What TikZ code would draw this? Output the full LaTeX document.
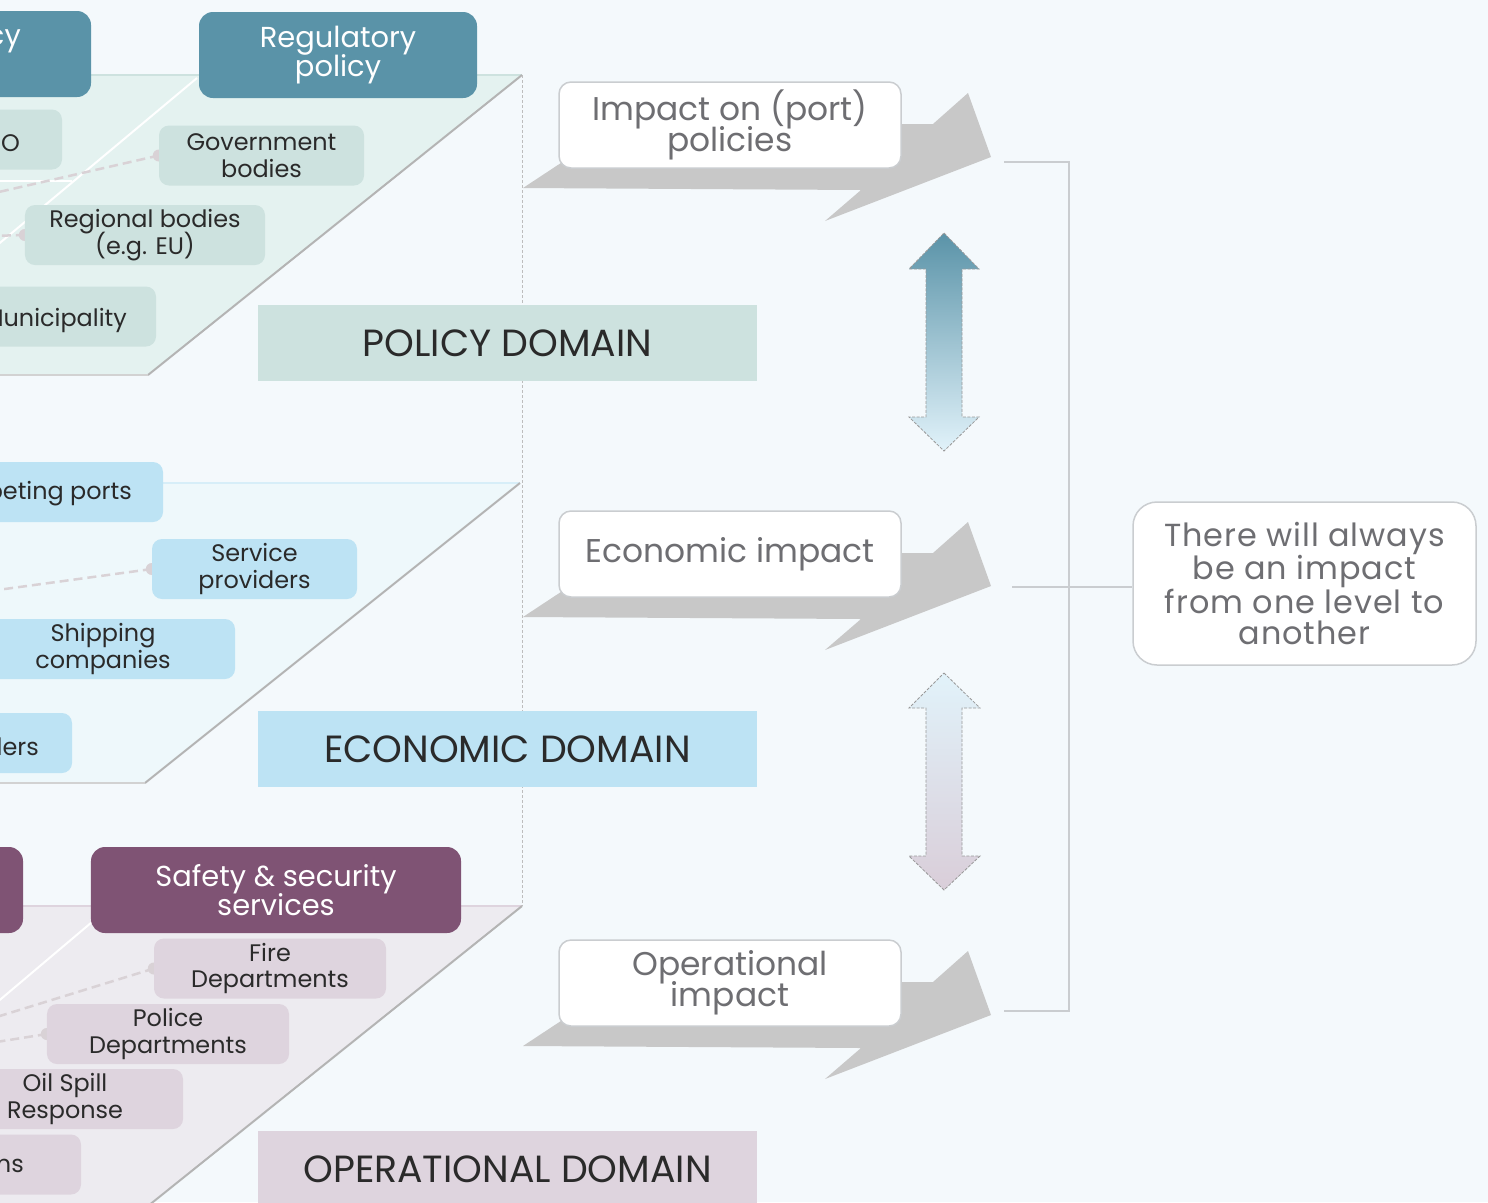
\documentclass[tikz,border=0pt]{standalone}
\usepackage{fontspec}
\setmainfont{Poppins}
\usetikzlibrary{shapes.misc}
\newcommand\mytightls{\lineskiplimit -60pt\relax}
\definecolor{bgc}{HTML}{F4F9FC}
\definecolor{polplane}{HTML}{E4F2F0}
\definecolor{ecoplane}{HTML}{EEF8FB}
\definecolor{opplane}{HTML}{EDEBF0}
\definecolor{polhdr}{HTML}{5A93A8}
\definecolor{polsub}{HTML}{CDE2DF}
\definecolor{ecosub}{HTML}{BDE3F4}
\definecolor{ophdr}{HTML}{7F5374}
\definecolor{opsub}{HTML}{DED4DE}
\definecolor{arrgray}{HTML}{C8C8C8}
\definecolor{conncol}{HTML}{D9D2D6}
\definecolor{txtdark}{HTML}{2A2A2A}
\definecolor{txtgray}{HTML}{6E6E72}
\definecolor{brk}{HTML}{CACDD0}
\definecolor{edgeg}{HTML}{B4B4B4}
\definecolor{vdash}{HTML}{BDBDBD}
\pgfdeclarelayer{back}
\pgfdeclarelayer{conn}
\pgfsetlayers{back,conn,main}
\begin{document}
\begin{tikzpicture}[x=1bp,y=-1bp,
  hdrbox/.style={rounded corners=14bp, text=white, font=\fontsize{29}{29.5}\selectfont\mytightls,
    align=center, minimum width=278bp, minimum height=86bp, inner sep=0pt},
  subbox/.style={rounded corners=10bp, text=txtdark, font=\fontsize{24}{26.5}\selectfont\mytightls,
    align=center, minimum height=60bp, inner sep=0pt},
  frag/.style={inner sep=0pt, text=txtdark, font=\fontsize{24}{26.5}\selectfont},
  hfrag/.style={inner sep=0pt, text=white, font=\fontsize{29}{29.5}\selectfont},
  dombox/.style={minimum width=499bp, minimum height=76bp, inner sep=0pt, text=txtdark,
    font=\fontsize{38}{38}\selectfont},
  impbox/.style={rounded corners=12bp, fill=white, draw=brk, line width=1.5bp,
    minimum width=342bp, minimum height=86bp, inner sep=0pt, align=center,
    text=txtgray, font=\fontsize{33}{31}\selectfont\mytightls},
  grayarrow/.style={fill=arrgray},
  conline/.style={draw=conncol, line width=2.5bp, dash pattern=on 9bp off 5bp},
  condot/.style={fill=conncol},
  planeedge/.style={draw=edgeg, line width=2bp},
  whiteline/.style={draw=white, line width=2bp},
  dbl/.style={draw=gray!80, line width=0.8bp, dash pattern=on 3bp off 1.5bp},
  brkline/.style={draw=brk, line width=2.2bp}
]
\useasboundingbox (0,0) rectangle (1488,1202);

\begin{pgfonlayer}{back}
  \fill[bgc] (0,0) rectangle (1488,1202);
  % policy plane
  \fill[polplane] (-300,75) -- (522,75) -- (148,375) -- (-300,375) -- cycle;
  \draw[draw=polsub, line width=2bp] (-300,75) -- (522,75);
  \draw[planeedge] (522,75) -- (148,375);
  \draw[draw=edgeg!60, line width=1.5bp] (148,375) -- (-300,375);
  \draw[whiteline] (197,78) -- (-5,247);
  \draw[whiteline] (-5,181) -- (72,181);
  % economic plane
  \fill[ecoplane] (-300,483) -- (520,483) -- (145,783) -- (-300,783) -- cycle;
  \draw[draw=ecosub!60, line width=2bp] (-300,483) -- (520,483);
  \draw[planeedge] (520,483) -- (145,783);
  \draw[draw=edgeg!60, line width=1.5bp] (145,783) -- (-300,783);
  % operational plane
  \fill[opplane] (-300,906) -- (522,906) -- (148,1206) -- (-300,1206) -- cycle;
  \draw[draw=opsub, line width=2bp] (-300,906) -- (522,906);
  \draw[planeedge] (522,906) -- (148,1206);
  \draw[whiteline] (92,922) -- (-5,1004);
  % vertical dashed guide
  \draw[draw=vdash, line width=0.8bp, dash pattern=on 3bp off 2bp] (522,75) -- (522,906);
\end{pgfonlayer}

% ---------- policy domain ----------
\node[hdrbox, fill=polhdr] (regpol) at (338,55) {Regulatory\\policy};
\node[hdrbox, fill=polhdr] (lefthdr) at (-48,54) {};
\node[hfrag, anchor=east] (lefthdrtxt) at (21,41) {cy};
\node[subbox, fill=polsub, minimum width=205bp] (gov) at (261.5,155.5) {Government\\bodies};
\node[subbox, fill=polsub, minimum width=205bp] (imo) at (-40.5,139.5) {};
\node[frag, anchor=east] (imotxt) at (20,143) {IMO};
\node[subbox, fill=polsub, minimum width=240bp] (reg) at (145,235) {Regional bodies\\(e.g. EU)};
\node[subbox, fill=polsub, minimum width=240bp] (mun) at (36,316.5) {};
\node[frag, anchor=east] (muntxt) at (127,321) {Municipality};
\node[dombox, fill=polsub] (poldom) at (507.5,343) {POLICY DOMAIN};

% ---------- economic domain ----------
\node[subbox, fill=ecosub, minimum width=260bp] (comp) at (33,492) {};
\node[frag, anchor=east] (comptxt) at (132,494) {Competing ports};
\node[subbox, fill=ecosub, minimum width=205bp] (serv) at (254.5,569) {Service\\providers};
\node[subbox, fill=ecosub, minimum width=264bp] (ship) at (103,649) {Shipping\\companies};
\node[subbox, fill=ecosub, minimum width=204bp] (ders) at (-30,743) {};
\node[frag, anchor=east] (derstxt) at (39,747) {ders};
\node[dombox, fill=ecosub] (ecodom) at (507.5,749) {ECONOMIC DOMAIN};

% ---------- operational domain ----------
\node[hdrbox, fill=ophdr, minimum width=370bp] (safety) at (276,890) {Safety \& security\\services};
\node[hdrbox, fill=ophdr, minimum width=370bp] (lefthdr2) at (-162,890) {};
\node[subbox, fill=opsub, minimum width=232bp] (fire) at (270,968.5) {Fire\\Departments};
\node[subbox, fill=opsub, minimum width=242bp] (police) at (168,1034) {Police\\Departments};
\node[subbox, fill=opsub, minimum width=236bp] (oil) at (65,1099) {Oil Spill\\Response};
\node[subbox, fill=opsub, minimum width=242bp] (ms) at (-40,1164.5) {};
\node[frag, anchor=east] (mstxt) at (24,1166) {ms};
\node[dombox, fill=opsub] (opdom) at (507.5,1169) {OPERATIONAL DOMAIN};

% ---------- dashed connectors ----------
\coordinate (gvend) at (-10,194);
\coordinate (rgend) at (-10,236);
\coordinate (svend) at (-10,591);
\coordinate (frend) at (-10,1019);
\coordinate (plend) at (-10,1043);
\begin{pgfonlayer}{conn}
  \draw[conline] (gov.west) -- (gvend);
  \draw[conline] (reg.west) -- (rgend);
  \draw[conline] (serv.west) -- (svend);
  \draw[conline] (fire.west) -- (frend);
  \draw[conline] (police.west) -- (plend);
  \fill[condot] (gov.west) circle (6bp);
  \fill[condot] (reg.west) circle (6bp);
  \fill[condot] (serv.west) circle (6bp);
  \fill[condot] (fire.west) circle (6bp);
  \fill[condot] (police.west) circle (6bp);
\end{pgfonlayer}

% ---------- gray impact arrows ----------
\fill[grayarrow] (523,188) -- (861,190) -- (825,221) -- (991,157) -- (968,93) -- (933,124) -- (620,124) -- cycle;
\fill[grayarrow] (523,617) -- (861,619) -- (825,650) -- (991,586) -- (968,522) -- (933,553) -- (620,553) -- cycle;
\fill[grayarrow] (523,1046) -- (861,1048) -- (825,1079) -- (991,1015) -- (968,951) -- (933,982) -- (620,982) -- cycle;
\node[impbox] (imp1) at (730,125) {Impact on (port)\\policies};
\node[impbox] (imp2) at (730,554) {Economic impact};
\node[impbox] (imp3) at (730,983) {Operational\\impact};

% ---------- vertical double arrows ----------
\path[top color=polhdr, bottom color=ecosub!45] (944,233) -- (979,269) -- (962,269) -- (962,417) -- (979,417) -- (944,451) -- (909,417) -- (926,417) -- (926,269) -- (909,269) -- cycle;
\draw[dbl] (944,233) -- (979,269) -- (962,269) -- (962,417) -- (979,417) -- (944,451) -- (909,417) -- (926,417) -- (926,269) -- (909,269) -- cycle;
\path[top color=ecosub!45, bottom color=opsub!95!ophdr] (944,673) -- (980,708) -- (962,708) -- (962,856) -- (980,856) -- (944,890) -- (909,856) -- (926,856) -- (926,708) -- (909,708) -- cycle;
\draw[dbl] (944,673) -- (980,708) -- (962,708) -- (962,856) -- (980,856) -- (944,890) -- (909,856) -- (926,856) -- (926,708) -- (909,708) -- cycle;

% ---------- bracket and conclusion ----------
\node[rounded corners=24bp, fill=white, draw=brk, line width=1.5bp, minimum width=343bp,
  minimum height=163bp, inner sep=0pt, align=center, text=txtgray,
  font=\fontsize{32}{31.5}\selectfont\addfontfeatures{LetterSpace=3}] (concl) at (1304.5,583.5)
  {There will always\\be an impact\\from one level to\\another};
\coordinate (brtop) at (1004,162);
\coordinate (brbot) at (1004,1011);
\coordinate (brmid) at (1012,587);
\draw[brkline] (brtop) -- (1069,162) -- (1069,1011) -- (brbot);
\draw[brkline] (brmid) -- (brmid -| concl.west);
\end{tikzpicture}
\end{document}
